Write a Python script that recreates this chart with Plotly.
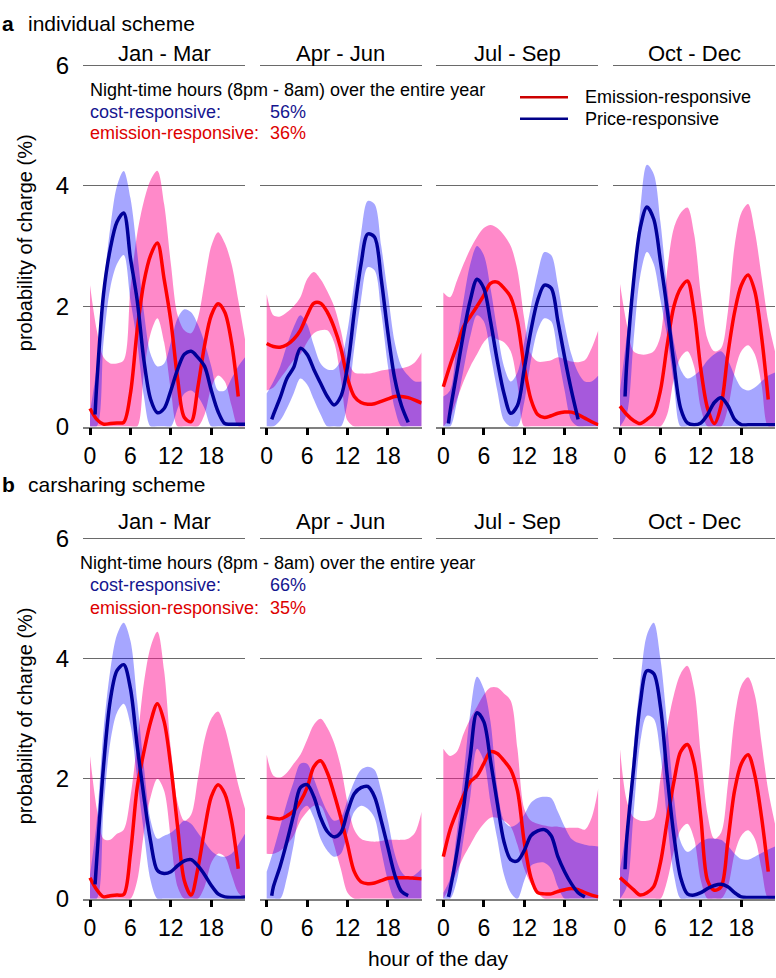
import plotly.graph_objects as go

# ---------------- data ----------------
HOURS = list(range(24))
PRICE_HOURS = [0.75] + list(range(1, 24))
QUARTERS = ["Jan - Mar", "Apr - Jun", "Jul - Sep", "Oct - Dec"]
SCHEMES = ["individual scheme", "carsharing scheme"]
SCHEME_LETTERS = ["a", "b"]
NIGHT_COST = ["56%", "66%"]
NIGHT_EMIS = ["36%", "35%"]

# individual scheme
A1_EMIS = [0.30, 0.12, 0.04, 0.05, 0.06, 0.07, 0.55, 1.6, 2.4, 2.85, 3.05, 2.45, 1.75, 0.8, 0.15, 0.08, 0.65, 1.35, 1.85, 2.04, 1.9, 1.4, 0.5, None]
A1_EMIS_HI = [2.35, 1.6, 1.15, 1.05, 1.05, 1.1, 2.3, 3.2, 3.75, 4.1, 4.25, 3.7, 2.7, 1.85, 1.6, 1.55, 1.8, 2.4, 3.0, 3.23, 3.05, 2.7, 2.1, 1.45]
A1_EMIS_LO = [0, 0, 0, 0, 0, 0, 0, 0, 0.9, 1.55, 1.8, 1.4, 0.6, 0, 0, 0, 0, 0.2, 0.65, 0.85, 0.75, 0.35, 0, 0]
A1_PRICE = [0.2, 0.7, 2.2, 2.95, 3.4, 3.55, 2.8, 2.1, 1.1, 0.45, 0.23, 0.3, 0.6, 0.95, 1.2, 1.25, 1.15, 1.0, 0.6, 0.25, 0.05, 0.04, 0.04, 0.04]
A1_PRICE_HI = [0.25, 1.0, 2.3, 3.3, 4.0, 4.25, 3.8, 2.9, 1.9, 1.2, 1.0, 1.05, 1.4, 1.8, 1.95, 1.9, 1.7, 1.4, 1.0, 0.6, 0.6, 0.8, 1.0, 1.15]
A1_PRICE_LO = [0, 0, 1.4, 2.3, 2.7, 2.85, 2.1, 1.4, 0.5, 0, 0, 0, 0, 0.3, 0.55, 0.6, 0.5, 0.3, 0, 0, 0, 0, 0, 0]

A2_EMIS = [1.38, 1.33, 1.32, 1.36, 1.45, 1.6, 1.85, 2.05, 2.05, 1.9, 1.65, 1.3, 0.8, 0.5, 0.4, 0.37, 0.38, 0.42, 0.46, 0.5, 0.5, 0.48, 0.44, 0.39]
A2_EMIS_HI = [2.2, 1.85, 1.83, 1.9, 2.0, 2.15, 2.45, 2.57, 2.45, 2.25, 2.0, 1.6, 1.1, 0.9, 0.88, 0.88, 0.9, 0.93, 0.95, 0.96, 0.97, 1.0, 1.07, 1.23]
A2_EMIS_LO = [0.6, 0.65, 0.8, 0.95, 1.1, 1.2, 1.4, 1.55, 1.6, 1.6, 1.4, 0.8, 0.1, 0, 0, 0, 0, 0, 0, 0, 0, 0, 0, 0]
A2_PRICE = [0.12, 0.2, 0.48, 0.8, 0.98, 1.3, 1.2, 0.95, 0.72, 0.5, 0.36, 0.5, 1.0, 1.9, 2.7, 3.2, 3.15, 2.45, 1.55, 0.8, 0.35, 0.07, None, None]
A2_PRICE_HI = [0.55, 0.75, 1.0, 1.35, 1.65, 1.85, 1.7, 1.35, 1.05, 0.95, 0.95, 1.1, 1.6, 2.4, 3.2, 3.75, 3.7, 3.0, 2.2, 1.4, 1.0, 0.85, 0.75, 0.75]
A2_PRICE_LO = [0, 0, 0.1, 0.3, 0.55, 0.8, 0.7, 0.45, 0.2, 0, 0, 0, 0.4, 1.3, 2.1, 2.65, 2.6, 1.9, 1.0, 0.3, 0, 0, 0, 0]

A3_EMIS = [0.66, 1.02, 1.34, 1.66, 1.83, 2.0, 2.18, 2.38, 2.4, 2.3, 2.15, 1.75, 1.0, 0.45, 0.2, 0.15, 0.18, 0.22, 0.24, 0.24, 0.2, 0.14, 0.08, 0.03]
A3_EMIS_HI = [2.23, 2.15, 2.42, 2.7, 2.95, 3.15, 3.3, 3.35, 3.3, 3.18, 3.0, 2.6, 1.8, 1.2, 1.08, 1.08, 1.1, 1.15, 1.12, 1.08, 1.07, 1.1, 1.3, 1.6]
A3_EMIS_LO = [0, 0.15, 0.45, 0.75, 1.0, 1.2, 1.4, 1.5, 1.45, 1.4, 1.25, 0.7, 0, 0, 0, 0, 0, 0, 0, 0, 0, 0, 0, 0]
A3_PRICE = [0.05, 0.25, 0.9, 1.55, 2.1, 2.45, 2.3, 1.75, 1.1, 0.55, 0.22, 0.35, 0.95, 1.6, 2.1, 2.35, 2.3, 1.75, 1.15, 0.6, 0.12, None, None, None]
A3_PRICE_HI = [0.5, 0.6, 1.4, 2.1, 2.7, 3.0, 2.85, 2.3, 1.6, 1.0, 0.75, 0.9, 1.4, 2.0, 2.55, 2.9, 2.85, 2.35, 1.7, 1.2, 0.9, 0.75, 0.75, 0.85]
A3_PRICE_LO = [0, 0, 0.4, 0.95, 1.5, 1.85, 1.75, 1.2, 0.6, 0.1, 0, 0, 0.4, 1.1, 1.6, 1.8, 1.75, 1.2, 0.6, 0.1, 0, 0, 0, 0]

A4_EMIS = [0.34, 0.2, 0.1, 0.05, 0.12, 0.22, 0.6, 1.35, 2.0, 2.3, 2.42, 1.9, 0.95, 0.3, 0.05, 0.35, 1.2, 1.9, 2.35, 2.52, 2.25, 1.5, 0.45, None]
A4_EMIS_HI = [2.37, 1.7, 1.25, 1.2, 1.2, 1.25, 1.5, 2.6, 3.3, 3.55, 3.64, 3.2, 2.2, 1.45, 1.25, 1.3, 1.9, 3.0, 3.55, 3.7, 3.25, 2.5, 1.75, 1.25]
A4_EMIS_LO = [0, 0, 0, 0, 0, 0, 0, 0.2, 0.8, 1.15, 1.25, 1.0, 0.3, 0, 0, 0, 0.3, 0.9, 1.25, 1.35, 1.2, 0.7, 0, 0]
A4_PRICE = [0.5, 1.05, 2.4, 3.3, 3.65, 3.45, 2.75, 1.95, 1.05, 0.3, 0.06, 0.03, 0.06, 0.2, 0.4, 0.48, 0.35, 0.12, 0.03, 0.03, 0.03, 0.03, 0.03, 0.03]
A4_PRICE_HI = [0.6, 1.5, 2.45, 3.6, 4.35, 4.2, 3.4, 2.3, 1.4, 0.95, 0.8, 0.85, 0.95, 1.1, 1.2, 1.25, 1.1, 0.85, 0.65, 0.6, 0.65, 0.75, 0.85, 0.9]
A4_PRICE_LO = [0, 0.2, 1.4, 2.5, 2.9, 2.7, 2.1, 1.5, 0.7, 0, 0, 0, 0, 0, 0, 0, 0, 0, 0, 0, 0, 0, 0, 0]

# carsharing scheme
B1_EMIS = [0.35, 0.15, 0.03, 0.05, 0.06, 0.07, 0.75, 1.85, 2.45, 2.95, 3.25, 2.95, 2.2, 1.2, 0.3, 0.06, 0.5, 1.15, 1.7, 1.9, 1.75, 1.3, 0.5, None]
B1_EMIS_HI = [2.38, 1.5, 1.0, 0.98, 1.08, 1.15, 1.7, 2.6, 3.6, 4.2, 4.45, 3.8, 2.5, 1.6, 1.3, 1.4, 2.0, 2.65, 3.0, 3.12, 2.85, 2.4, 1.9, 1.5]
B1_EMIS_LO = [0, 0, 0, 0, 0, 0, 0, 0.3, 1.1, 1.7, 2.0, 1.8, 1.0, 0.2, 0, 0, 0, 0.2, 0.6, 0.75, 0.7, 0.4, 0.1, 0]
B1_PRICE = [0.24, 0.65, 2.2, 3.3, 3.8, 3.9, 3.5, 2.55, 1.7, 0.95, 0.47, 0.42, 0.45, 0.55, 0.63, 0.65, 0.55, 0.4, 0.22, 0.08, 0.03, 0.02, 0.02, 0.03]
B1_PRICE_HI = [0.4, 1.3, 2.8, 3.8, 4.4, 4.6, 4.3, 3.3, 2.2, 1.3, 1.0, 1.05, 1.1, 1.2, 1.3, 1.25, 1.1, 0.95, 0.8, 0.72, 0.7, 0.75, 0.9, 1.08]
B1_PRICE_LO = [0, 0, 1.5, 2.6, 3.1, 3.25, 2.9, 2.0, 1.1, 0.3, 0, 0, 0, 0, 0, 0, 0, 0, 0, 0, 0, 0, 0, 0]

B2_EMIS = [1.36, 1.34, 1.33, 1.38, 1.46, 1.62, 1.85, 2.2, 2.3, 2.1, 1.75, 1.35, 0.9, 0.45, 0.28, 0.25, 0.26, 0.3, 0.34, 0.35, 0.35, 0.35, 0.34, 0.33]
B2_EMIS_HI = [2.4, 2.05, 2.02, 2.1, 2.25, 2.4, 2.65, 2.9, 3.0, 2.85, 2.6, 2.2, 1.6, 1.15, 1.0, 0.96, 0.95, 0.96, 0.98, 0.98, 0.98, 1.0, 1.1, 1.45]
B2_EMIS_LO = [0.75, 0.75, 0.8, 0.9, 1.05, 1.3, 1.45, 1.55, 1.55, 1.3, 0.9, 0.5, 0.1, 0, 0, 0, 0, 0, 0, 0, 0, 0, 0, 0]
B2_PRICE = [0.05, 0.2, 0.54, 0.95, 1.4, 1.85, 1.9, 1.7, 1.35, 1.12, 1.03, 1.1, 1.45, 1.75, 1.85, 1.87, 1.7, 1.3, 0.85, 0.4, 0.12, 0.05, None, None]
B2_PRICE_HI = [0.45, 0.8, 1.2, 1.6, 1.95, 2.25, 2.25, 2.0, 1.7, 1.45, 1.3, 1.35, 1.65, 1.95, 2.15, 2.2, 2.15, 1.8, 1.3, 0.75, 0.45, 0.35, 0.4, 0.5]
B2_PRICE_LO = [0, 0, 0, 0.35, 0.9, 1.45, 1.55, 1.35, 1.0, 0.8, 0.7, 0.75, 1.1, 1.45, 1.55, 1.5, 1.35, 0.8, 0.3, 0, 0, 0, 0, 0]

B3_EMIS = [0.7, 1.15, 1.45, 1.72, 1.95, 2.05, 2.25, 2.45, 2.42, 2.3, 2.15, 1.8, 0.95, 0.35, 0.1, 0.08, 0.08, 0.12, 0.15, 0.17, 0.15, 0.1, 0.06, 0.03]
B3_EMIS_HI = [2.5, 2.38, 2.45, 2.75, 3.0, 3.2, 3.4, 3.52, 3.52, 3.42, 3.3, 2.5, 1.5, 1.3, 1.25, 1.22, 1.2, 1.2, 1.18, 1.18, 1.18, 1.15, 1.35, 1.84]
B3_EMIS_LO = [0, 0.2, 0.45, 0.7, 0.9, 1.1, 1.25, 1.35, 1.35, 1.3, 1.2, 0.9, 0.5, 0.25, 0.1, 0, 0, 0, 0, 0, 0, 0, 0, 0]
B3_PRICE = [0.03, 0.15, 0.76, 1.52, 2.38, 3.1, 2.95, 2.3, 1.6, 0.95, 0.65, 0.63, 0.8, 1.05, 1.13, 1.15, 1.05, 0.7, 0.45, 0.25, 0.1, 0.03, None, None]
B3_PRICE_HI = [0.1, 0.33, 1.1, 2.05, 3.1, 3.7, 3.5, 2.95, 1.85, 1.3, 1.2, 1.25, 1.4, 1.6, 1.68, 1.7, 1.68, 1.45, 1.2, 1.0, 0.93, 0.9, 0.88, 0.87]
B3_PRICE_LO = [0, 0, 0.3, 1.0, 1.7, 2.5, 2.3, 1.6, 1.0, 0.4, 0.1, 0, 0.3, 0.55, 0.6, 0.6, 0.5, 0.2, 0, 0, 0, 0, 0, 0]

B4_EMIS = [0.35, 0.25, 0.15, 0.06, 0.1, 0.2, 0.6, 1.3, 1.95, 2.45, 2.57, 2.25, 1.35, 0.3, 0.14, 0.2, 0.95, 1.8, 2.25, 2.4, 2.06, 1.36, 0.45, None]
B4_EMIS_HI = [2.49, 1.63, 1.36, 1.3, 1.3, 1.35, 2.0, 2.85, 3.4, 3.75, 3.88, 3.5, 2.4, 1.4, 1.0, 1.1, 1.9, 3.0, 3.55, 3.69, 3.4, 2.6, 1.8, 1.25]
B4_EMIS_LO = [0, 0, 0, 0, 0, 0, 0, 0.3, 0.8, 1.15, 1.25, 1.0, 0.3, 0, 0, 0, 0.2, 0.75, 1.05, 1.14, 1.0, 0.5, 0, 0]
B4_PRICE = [0.49, 1.0, 2.15, 3.25, 3.8, 3.75, 3.2, 2.05, 1.05, 0.35, 0.08, 0.06, 0.1, 0.17, 0.22, 0.24, 0.2, 0.1, 0.03, 0.02, 0.02, 0.02, 0.02, 0.02]
B4_PRICE_HI = [0.5, 1.2, 2.5, 3.6, 4.4, 4.6, 4.0, 2.9, 1.7, 0.95, 0.78, 0.85, 0.95, 1.0, 1.0, 0.98, 0.88, 0.75, 0.66, 0.65, 0.7, 0.76, 0.82, 0.87]
B4_PRICE_LO = [0, 0.2, 1.4, 2.6, 3.05, 3.0, 2.4, 1.3, 0.4, 0, 0, 0, 0, 0, 0, 0, 0, 0, 0, 0, 0, 0, 0, 0]

PANELS = [
    (A1_EMIS, A1_EMIS_LO, A1_EMIS_HI, A1_PRICE, A1_PRICE_LO, A1_PRICE_HI),
    (A2_EMIS, A2_EMIS_LO, A2_EMIS_HI, A2_PRICE, A2_PRICE_LO, A2_PRICE_HI),
    (A3_EMIS, A3_EMIS_LO, A3_EMIS_HI, A3_PRICE, A3_PRICE_LO, A3_PRICE_HI),
    (A4_EMIS, A4_EMIS_LO, A4_EMIS_HI, A4_PRICE, A4_PRICE_LO, A4_PRICE_HI),
    (B1_EMIS, B1_EMIS_LO, B1_EMIS_HI, B1_PRICE, B1_PRICE_LO, B1_PRICE_HI),
    (B2_EMIS, B2_EMIS_LO, B2_EMIS_HI, B2_PRICE, B2_PRICE_LO, B2_PRICE_HI),
    (B3_EMIS, B3_EMIS_LO, B3_EMIS_HI, B3_PRICE, B3_PRICE_LO, B3_PRICE_HI),
    (B4_EMIS, B4_EMIS_LO, B4_EMIS_HI, B4_PRICE, B4_PRICE_LO, B4_PRICE_HI),
]

# ---------------- style ----------------
W, H = 776, 978
FONT = "Liberation Sans, Arial, Helvetica, sans-serif"
PINK_FILL = "rgba(255,20,147,0.5)"
BLUE_FILL = "rgba(0,0,255,0.35)"
RED = "#ff0000"
NAVY = "#000099"
GRID = "#6a6a6a"


def px(x):
    return x / W


def py(y):
    return 1 - y / H


COL_LEFT = [83, 259.67, 436.33, 613]
PANEL_W = 162
ROWS = [(52.9, 426), (537.9, 910)]  # top/bottom pixel of plot area

fig = go.Figure()
layout = {}
for i, (em, em_lo, em_hi, pr, pr_lo, pr_hi) in enumerate(PANELS):
    r, c = divmod(i, 4)
    xa = "x" if i == 0 else f"x{i + 1}"
    ya = "y" if i == 0 else f"y{i + 1}"
    common = dict(xaxis=xa, yaxis=ya, showlegend=False, hoverinfo="skip")
    band_line = dict(width=0, shape="spline", smoothing=0.9)
    fig.add_trace(go.Scatter(x=HOURS, y=em_lo, mode="lines", line=band_line, **common))
    fig.add_trace(go.Scatter(x=HOURS, y=em_hi, mode="lines", line=band_line,
                             fill="tonexty", fillcolor=PINK_FILL, **common))
    fig.add_trace(go.Scatter(x=HOURS, y=pr_lo, mode="lines", line=band_line, **common))
    fig.add_trace(go.Scatter(x=HOURS, y=pr_hi, mode="lines", line=band_line,
                             fill="tonexty", fillcolor=BLUE_FILL, **common))
    fig.add_trace(go.Scatter(x=HOURS, y=em, mode="lines",
                             line=dict(color=RED, width=3.5, shape="spline", smoothing=0.9), **common))
    fig.add_trace(go.Scatter(x=PRICE_HOURS, y=pr, mode="lines",
                             line=dict(color=NAVY, width=3.5, shape="spline", smoothing=0.9), **common))

    left = COL_LEFT[c]
    top, bottom = ROWS[r]
    xkey = "xaxis" if i == 0 else f"xaxis{i + 1}"
    ykey = "yaxis" if i == 0 else f"yaxis{i + 1}"
    layout[xkey] = dict(
        domain=[px(left), px(left + PANEL_W)], anchor=ya, range=[-1.04, 23],
        tickvals=[0, 6, 12, 18], ticks="outside", ticklen=7, tickwidth=3, tickcolor="black",
        showline=True, linecolor="#808080", linewidth=1.5, showgrid=False, zeroline=False,
        ticklabelstandoff=1,
        tickfont=dict(size=23, color="black", family=FONT), fixedrange=True,
    )
    layout[ykey] = dict(
        domain=[py(bottom), py(top)], anchor=xa, range=[0, 6.05],
        tickvals=[0, 2, 4, 6], showgrid=True, gridcolor=GRID, gridwidth=1.2,
        zeroline=False, showline=False, showticklabels=(c == 0), ticks="",
        ticklabelstandoff=13, tickfont=dict(size=24, color="black", family=FONT),
        fixedrange=True,
    )

annotations = []
TITLE_Y = [43.5, 523]
for r in range(2):
    for c in range(4):
        annotations.append(dict(
            x=px(COL_LEFT[c] + PANEL_W / 2), y=py(TITLE_Y[r]), xref="paper", yref="paper",
            text=QUARTERS[c], showarrow=False, xanchor="center", yanchor="middle",
            font=dict(size=22, color="black", family=FONT)))

# scheme headers
HEAD_Y = [13, 485]
for r in range(2):
    annotations.append(dict(x=px(1), y=py(HEAD_Y[r]), xref="paper", yref="paper",
                            text="<b>" + SCHEME_LETTERS[r] + "</b>", showarrow=False,
                            xanchor="left", yanchor="middle", borderpad=0,
                            font=dict(size=21, color="black", family=FONT)))
    annotations.append(dict(x=px(27), y=py(HEAD_Y[r]), xref="paper", yref="paper",
                            text=SCHEMES[r], showarrow=False, xanchor="left", yanchor="middle",
                            borderpad=0,
                            font=dict(size=21, color="black", family=FONT)))

# y-axis titles
for yc in [238, 723]:
    annotations.append(dict(x=px(25), y=py(yc), xref="paper", yref="paper",
                            text="probability of charge (%)", showarrow=False, textangle=-90,
                            xanchor="center", yanchor="middle",
                            font=dict(size=20, color="black", family=FONT)))

# x-axis title
annotations.append(dict(x=px(438), y=0.0, xref="paper", yref="paper",
                        text="hour of the day", showarrow=False, xanchor="center", yanchor="bottom",
                        yshift=-7, font=dict(size=21, color="black", family=FONT)))

# night-time texts
NIGHT_POS = [(88, 81, 88, 103.5, 125), (78, 566, 88, 588.5, 612)]
COST_COL = "#15158f"
EMIS_COL = "#dd0000"
for r, (xn, yn, xl, yc_, ye_) in enumerate(NIGHT_POS):
    annotations.append(dict(x=px(xn), y=py(yn), xref="paper", yref="paper",
                            text="Night-time hours (8pm - 8am) over the entire year",
                            showarrow=False, xanchor="left", yanchor="middle",
                            font=dict(size=18, color="black", family=FONT)))
    annotations.append(dict(x=px(xl), y=py(yc_), xref="paper", yref="paper",
                            text="cost-responsive:", showarrow=False, xanchor="left", yanchor="middle",
                            font=dict(size=18, color=COST_COL, family=FONT)))
    annotations.append(dict(x=px(xl), y=py(ye_), xref="paper", yref="paper",
                            text="emission-responsive:", showarrow=False, xanchor="left", yanchor="middle",
                            font=dict(size=18, color=EMIS_COL, family=FONT)))
    annotations.append(dict(x=px(268), y=py(yc_), xref="paper", yref="paper",
                            text=NIGHT_COST[r], showarrow=False, xanchor="left", yanchor="middle",
                            font=dict(size=18, color=COST_COL, family=FONT)))
    annotations.append(dict(x=px(268), y=py(ye_), xref="paper", yref="paper",
                            text=NIGHT_EMIS[r], showarrow=False, xanchor="left", yanchor="middle",
                            font=dict(size=18, color=EMIS_COL, family=FONT)))

# legend (top row)
LEGEND_LABELS = ["Emission-responsive", "Price-responsive"]
LEGEND_COLORS = ["#cc0000", "#000088"]
LEGEND_Y = [88.5, 110.5]
shapes = []
for lab, col, ly in zip(LEGEND_LABELS, LEGEND_COLORS, LEGEND_Y):
    shapes.append(dict(type="line", xref="paper", yref="paper", x0=px(520), x1=px(568),
                       y0=py(ly), y1=py(ly), line=dict(color=col, width=2.5)))
    annotations.append(dict(x=px(583), y=py(ly), xref="paper", yref="paper", text=lab,
                            showarrow=False, xanchor="left", yanchor="middle",
                            font=dict(size=18, color="black", family=FONT)))

fig.update_layout(
    width=W, height=H, margin=dict(l=0, r=0, t=0, b=0),
    paper_bgcolor="white", plot_bgcolor="white",
    showlegend=False, annotations=annotations, shapes=shapes,
    font=dict(family=FONT, color="black"),
    **layout,
)

fig.write_html("out.html")
